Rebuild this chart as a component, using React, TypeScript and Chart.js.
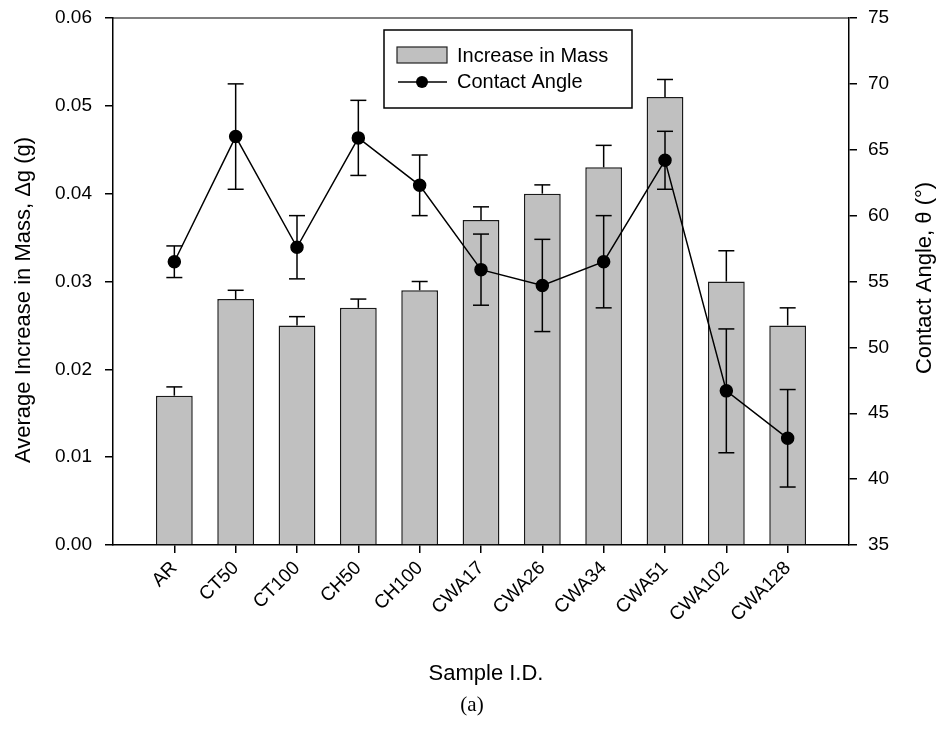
import React, { useEffect, useRef } from 'react';
import { Chart, registerables } from 'chart.js';

Chart.register(...registerables);

const samples = ['AR', 'CT50', 'CT100', 'CH50', 'CH100', 'CWA17', 'CWA26', 'CWA34', 'CWA51', 'CWA102', 'CWA128'];
const massIncrease = [0.017, 0.028, 0.025, 0.027, 0.029, 0.037, 0.040, 0.043, 0.051, 0.030, 0.025];
const massError = [0.001, 0.001, 0.001, 0.001, 0.001, 0.0015, 0.001, 0.0025, 0.002, 0.0035, 0.002];
const contactAngle = [56.5, 66.0, 57.6, 65.9, 62.3, 55.9, 54.7, 56.5, 64.2, 46.7, 43.1];
const angleError = [1.2, 4.0, 2.4, 2.85, 2.3, 2.7, 3.5, 3.5, 2.2, 4.7, 3.7];
const massTicks = [0, 0.01, 0.02, 0.03, 0.04, 0.05, 0.06];
const angleTicks = [35, 40, 45, 50, 55, 60, 65, 70, 75];

const SANS = '"Liberation Sans", Arial, sans-serif';
const SERIF = '"Liberation Serif", "Times New Roman", serif';

const labels = ['', ...samples, ''];
const padNull = (a: number[]) => [null, ...a, null];

const errorBarsPlugin = {
  id: 'errorBars',
  afterDatasetsDraw(chart: any) {
    const { ctx } = chart;
    const x = chart.scales.x;
    const yL = chart.scales.y;
    const yR = chart.scales.y1;
    const cap = 8;
    ctx.save();
    ctx.strokeStyle = '#000';
    ctx.lineWidth = 1.5;
    const seg = (x1: number, y1: number, x2: number, y2: number) => {
      ctx.beginPath();
      ctx.moveTo(x1, y1);
      ctx.lineTo(x2, y2);
      ctx.stroke();
    };
    samples.forEach((_, i) => {
      const px = x.getPixelForValue(i + 1);
      const bTop = yL.getPixelForValue(massIncrease[i]);
      const bErr = yL.getPixelForValue(massIncrease[i] + massError[i]);
      seg(px, bTop, px, bErr);
      seg(px - cap, bErr, px + cap, bErr);
      const hi = yR.getPixelForValue(contactAngle[i] + angleError[i]);
      const lo = yR.getPixelForValue(contactAngle[i] - angleError[i]);
      seg(px, hi, px, lo);
      seg(px - cap, hi, px + cap, hi);
      seg(px - cap, lo, px + cap, lo);
    });
    ctx.restore();
  },
};

const decorPlugin = {
  id: 'decor',
  afterDraw(chart: any) {
    const { ctx, chartArea } = chart;
    ctx.save();
    // top frame line
    ctx.strokeStyle = '#000';
    ctx.lineWidth = 1.2;
    ctx.beginPath();
    ctx.moveTo(chartArea.left, chartArea.top);
    ctx.lineTo(chartArea.right, chartArea.top);
    ctx.stroke();

    // legend
    const ds = chart.data.datasets;
    const lx = 384, ly = 30, lw = 248, lh = 78;
    ctx.fillStyle = '#fff';
    ctx.fillRect(lx, ly, lw, lh);
    ctx.lineWidth = 1.5;
    ctx.strokeRect(lx, ly, lw, lh);
    ctx.fillStyle = '#c0c0c0';
    ctx.fillRect(397, 47, 50, 16);
    ctx.lineWidth = 1.2;
    ctx.strokeStyle = '#222';
    ctx.strokeRect(397, 47, 50, 16);
    ctx.strokeStyle = '#000';
    ctx.lineWidth = 1.5;
    ctx.beginPath();
    ctx.moveTo(398, 82);
    ctx.lineTo(447, 82);
    ctx.stroke();
    ctx.fillStyle = '#000';
    ctx.beginPath();
    ctx.arc(422, 82, 6, 0, Math.PI * 2);
    ctx.fill();
    ctx.font = `20px ${SANS}`;
    ctx.textAlign = 'left';
    ctx.textBaseline = 'alphabetic';
    const barDs = ds.find((d: any) => d.type === 'bar');
    const lineDs = ds.find((d: any) => d.type === 'line');
    ctx.fillText(barDs.label, 457, 62);
    ctx.fillText(lineDs.label, 457, 88);

    // axis titles
    ctx.font = `22px ${SANS}`;
    ctx.save();
    ctx.translate(30, 463);
    ctx.rotate(-Math.PI / 2);
    ctx.fillText('Average Increase in Mass, \u0394g (g)', 0, 0);
    ctx.restore();

    ctx.save();
    ctx.translate(931, 278);
    ctx.rotate(-Math.PI / 2);
    ctx.textAlign = 'center';
    ctx.fillText('Contact Angle, \u03b8 (\u00b0)', 0, 0);
    ctx.restore();

    ctx.textAlign = 'center';
    ctx.fillText('Sample I.D.', 486, 680);
    ctx.font = `21px ${SERIF}`;
    ctx.fillText('(a)', 472, 711);
    ctx.restore();
  },
};

export default function App() {
  const ref = useRef<HTMLCanvasElement | null>(null);
  useEffect(() => {
    if (!ref.current) return;
    const tickFont = { family: SANS, size: 19 };
    const chart = new Chart(ref.current, {
      data: {
        labels,
        datasets: [
          {
            type: 'line',
            label: 'Contact Angle',
            data: padNull(contactAngle),
            yAxisID: 'y1',
            borderColor: '#000',
            borderWidth: 1.5,
            backgroundColor: '#000',
            pointRadius: 6,
            pointBackgroundColor: '#000',
            pointBorderColor: '#000',
            tension: 0,
            order: 0,
          } as any,
          {
            type: 'bar',
            label: 'Increase in Mass',
            data: padNull(massIncrease),
            yAxisID: 'y',
            backgroundColor: '#c0c0c0',
            borderColor: '#1a1a1a',
            borderWidth: 1.5,
            barPercentage: 0.6,
            categoryPercentage: 1,
            order: 1,
          } as any,
        ],
      },
      options: {
        responsive: false,
        animation: false,
        layout: { padding: { top: 18, left: 0, right: 0, bottom: 0 } },
        plugins: { legend: { display: false }, tooltip: { enabled: false } },
        scales: {
          x: {
            type: 'category',
            offset: false,
            grid: {
              offset: false,
              drawOnChartArea: false,
              drawTicks: true,
              tickLength: 8,
              lineWidth: 1.5,
              color: (c: any) => (c.index === 0 || c.index === labels.length - 1 ? 'rgba(0,0,0,0)' : '#000'),
            },
            border: { display: true, color: '#000', width: 1.5 },
            ticks: {
              color: '#000',
              font: tickFont,
              minRotation: 45,
              maxRotation: 45,
              autoSkip: false,
              padding: 4,
            },
            afterFit: (s: any) => {
              s.height = 186;
              s.paddingLeft = 0;
              s.paddingRight = 0;
            },
          },
          y: {
            type: 'linear',
            position: 'left',
            min: massTicks[0],
            max: massTicks[massTicks.length - 1],
            grid: { drawOnChartArea: false, tickLength: 8, color: '#000', lineWidth: 1.5 },
            border: { display: true, color: '#000', width: 1.5 },
            ticks: {
              stepSize: 0.01,
              color: '#000',
              font: tickFont,
              padding: 13,
              callback: (v: any) => Number(v).toFixed(2),
            },
            afterBuildTicks: (s: any) => {
              s.ticks = massTicks.map((v) => ({ value: v }));
            },
            afterFit: (s: any) => {
              s.width = 113;
              s.paddingTop = 0;
              s.paddingBottom = 0;
            },
          },
          y1: {
            type: 'linear',
            position: 'right',
            min: angleTicks[0],
            max: angleTicks[angleTicks.length - 1],
            grid: { drawOnChartArea: false, tickLength: 8, color: '#000', lineWidth: 1.5 },
            border: { display: true, color: '#000', width: 1.5 },
            ticks: { stepSize: 5, color: '#000', font: tickFont, padding: 11 },
            afterBuildTicks: (s: any) => {
              s.ticks = angleTicks.map((v) => ({ value: v }));
            },
            afterFit: (s: any) => {
              s.width = 93;
              s.paddingTop = 0;
              s.paddingBottom = 0;
            },
          },
        },
      },
      plugins: [errorBarsPlugin, decorPlugin],
    });
    return () => chart.destroy();
  }, []);

  return (
    <div style={{ position: 'absolute', left: 0, top: 0, width: 942, height: 731, background: '#fff' }}>
      <canvas ref={ref} width={942} height={731} style={{ display: 'block', width: 942, height: 731 }} />
    </div>
  );
}
